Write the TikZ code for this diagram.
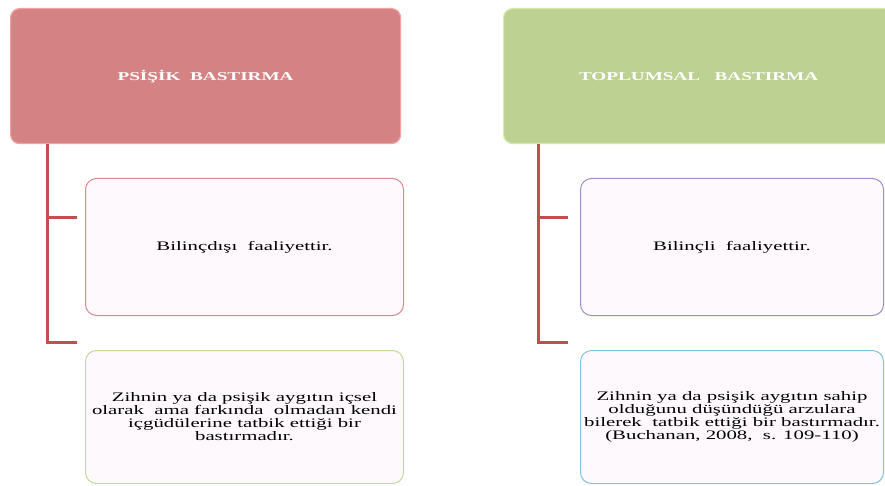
\documentclass[tikz,border=0pt]{standalone}
\usepackage{fontspec}
\setmainfont{Liberation Serif}
\newfontfamily\widefont[FakeStretch=1.6]{Liberation Serif}
\usetikzlibrary{positioning}
\definecolor{headred}{HTML}{D48284}
\definecolor{rimred}{HTML}{F2A2A3}
\definecolor{headgreen}{HTML}{BDD192}
\definecolor{rimgreen}{HTML}{D5E8A6}
\definecolor{linkred}{HTML}{C0504D}
\definecolor{itemfill}{HTML}{FDF9FC}
\definecolor{edgered}{HTML}{D98A8C}
\definecolor{edgegreen}{HTML}{C3DA98}
\definecolor{edgepurple}{HTML}{A08CC6}
\definecolor{edgecyan}{HTML}{80C4DC}

\begin{document}
\begin{tikzpicture}[x=1pt,y=-1pt,
      head/.style={draw,line width=1.2pt,rounded corners=9pt,anchor=north west,
                   minimum width=390pt,minimum height=135pt,text=white,
                   font=\widefont\bfseries\fontsize{12}{13}\selectfont},
      item/.style={draw,line width=1pt,fill=itemfill,rounded corners=11pt,
                   anchor=north west,minimum height=137pt,align=center,
                   font=\widefont\fontsize{13}{13}\selectfont},
      link/.style={draw=linkred,line width=3pt}]
    \useasboundingbox (0,0) rectangle (885,486);

    % left column
    \node[head,fill=headred,draw=rimred] (psisik) at (10,8) {PSİŞİK\ \ BASTIRMA};
    \node[item,draw=edgered,minimum width=318pt] (bilincdisi) at (85,178)
      {\raisebox{-3pt}{Bilinçdışı\ \ faaliyettir.}};
    \node[item,draw=edgegreen,minimum width=318pt,minimum height=133pt] (icsel) at (85,350)
      {Zihnin ya da psişik aygıtın içsel\\olarak\ \ ama farkında\ \ olmadan kendi\\
       içgüdülerine tatbik ettiği bir\\bastırmadır.};
    \coordinate (ltop) at ([xshift=37pt]psisik.south west);
    \coordinate (lbranch) at (77,218);
    \coordinate (lend) at (77,342);
    \draw[link] (ltop) |- (lend);
    \draw[link] (lbranch -| ltop) -- (lbranch);

    % right column
    \node[head,fill=headgreen,draw=rimgreen] (toplumsal) at (503,8)
      {TOPLUMSAL\ \ \ BASTIRMA};
    \node[item,draw=edgepurple,minimum width=303pt] (bilincli) at (580,178)
      {\raisebox{-3pt}{Bilinçli\ \ faaliyettir.}};
    \node[item,draw=edgecyan,minimum width=303pt,minimum height=133pt] (arzu) at (580,350)
      {Zihnin ya da psişik aygıtın sahip\\olduğunu düşündüğü arzulara\\
       bilerek\ \ tatbik ettiği bir bastırmadır.\\(Buchanan, 2008,\ \ s. 109-110)};
    \coordinate (rtop) at ([xshift=35pt]toplumsal.south west);
    \coordinate (rbranch) at (568,218);
    \coordinate (rend) at (568,342);
    \draw[link] (rtop) |- (rend);
    \draw[link] (rbranch -| rtop) -- (rbranch);
\end{tikzpicture}
\end{document}
